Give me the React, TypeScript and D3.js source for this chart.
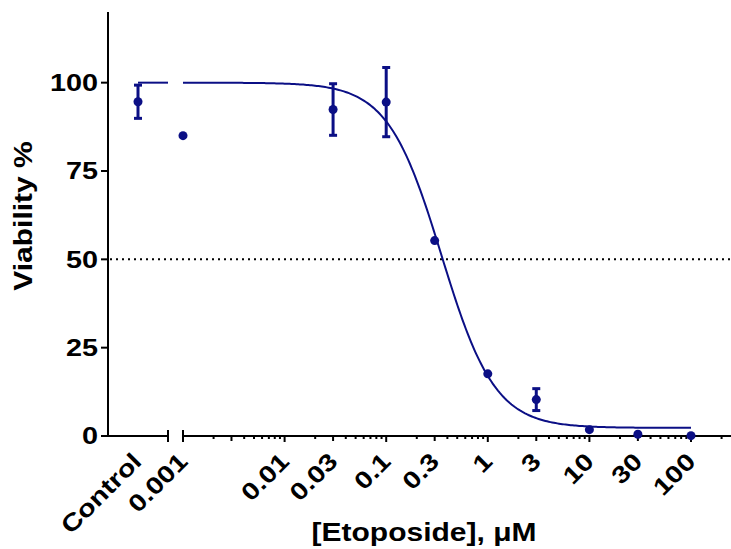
import * as d3 from 'd3'

// concentrations (µM) and viability readings
const concs = [0.001, 0.03, 0.1, 0.3, 1, 3, 10, 30, 100]
const means = [85, 92.4, 94.5, 55.3, 17.6, 10.3, 1.8, 0.5, 0.1]
const errs  = [0, 7.3, 9.8, 0, 0, 3.1, 0, 0, 0]
const controlMean = 94.6
const controlErr = 4.7

// fitted 4PL curve parameters
const fitTop = 100
const fitBottom = 2.3
const fitIC50 = 0.35
const fitHill = 1.65

const xTickVals   = [0.001, 0.01, 0.03, 0.1, 0.3, 1, 3, 10, 30, 100]
const xTickLabels = ['0.001', '0.01', '0.03', '0.1', '0.3', '1', '3', '10', '30', '100']
const yTicks = [0, 25, 50, 75, 100]

const W = 731, H = 549
const NAVY = '#0b0f85'
const FONT = '"Liberation Sans", Arial, sans-serif'
const SX = 1.2 // glyphs are drawn wide in the original

const fit = (c: number) => fitBottom + (fitTop - fitBottom) / (1 + Math.pow(c / fitIC50, fitHill))

export default function App() {
  const axisX = 108, axisY = 436, breakL = 168
  const y = d3.scaleLinear().domain([0, 120]).range([axisY, 12])
  const x = d3.scaleLog().domain([0.001, 100]).range([183, 691])
  const ctrl = d3.scalePoint().domain(['Control']).range([axisX, breakL]).padding(0.5)
  const cx = ctrl('Control') as number
  const xEnd = x.invert(W)

  // minor ticks 2..9 per decade
  const minor: number[] = []
  for (let e = -3; e <= 2; e++) for (let m = 2; m <= 9; m++) {
    const v = m * Math.pow(10, e)
    if (v < xEnd) minor.push(v)
  }

  const curvePts = d3.range(0, 301).map(i => {
    const c = Math.pow(10, -3 + (5 * i) / 300)
    return [x(c), y(fit(c))] as [number, number]
  })
  const line = d3.line()

  const points = concs.map((c, i) => ({ c, m: means[i], e: errs[i] }))

  return (
    <div>
      <style>{`body{margin:0}`}</style>
      <svg width={W} height={H} style={{ display: 'block', background: '#fff' }} fontFamily={FONT}>
        {/* dotted 50% line */}
        <line x1={axisX + 2} x2={W} y1={y(50)} y2={y(50)} stroke="#000" strokeWidth={2} strokeDasharray="2,4" />

        {/* y axis */}
        <line x1={axisX} x2={axisX} y1={y(120)} y2={axisY + 1} stroke="#000" strokeWidth={2} />
        {yTicks.map(t => (
          <g key={t}>
            <line x1={axisX - 7} x2={axisX} y1={y(t)} y2={y(t)} stroke="#000" strokeWidth={2} />
            <text transform={`translate(98,${y(t)}) scale(${SX},1)`} textAnchor="end" dy="0.35em"
              fontSize={24} fontWeight="bold">{t}</text>
          </g>
        ))}
        <text transform={`translate(31.5,216) rotate(-90) scale(${SX},1)`} textAnchor="middle"
          fontSize={25} fontWeight="bold">Viability %</text>

        {/* x axis, control segment + log segment */}
        <line x1={axisX - 1} x2={breakL} y1={axisY} y2={axisY} stroke="#000" strokeWidth={2} />
        <line x1={breakL} x2={breakL} y1={axisY - 6} y2={axisY + 6} stroke="#000" strokeWidth={2} />
        <line x1={x(0.001)} x2={W} y1={axisY} y2={axisY} stroke="#000" strokeWidth={2} />
        <line x1={x(0.001)} x2={x(0.001)} y1={axisY - 6} y2={axisY + 6} stroke="#000" strokeWidth={2} />
        {minor.map(v => {
          const lead = Math.round(v / Math.pow(10, Math.floor(Math.log10(v) + 1e-9)))
          const len = lead === 3 ? 5 : 3
          return <line key={v} x1={x(v)} x2={x(v)} y1={axisY} y2={axisY + len} stroke="#000" strokeWidth={2} />
        })}
        {[0.01, 0.1, 1, 10, 100].map(v => (
          <line key={v} x1={x(v)} x2={x(v)} y1={axisY} y2={axisY + 6} stroke="#000" strokeWidth={2} />
        ))}
        <text transform={`translate(${cx + 5},463) rotate(-45) scale(${SX},1)`} textAnchor="end"
          fontSize={24} fontWeight="bold">Control</text>
        {xTickVals.map((v, i) => (
          <text key={v} transform={`translate(${x(v) + 6},463) rotate(-45) scale(${SX},1)`} textAnchor="end"
            fontSize={24} fontWeight="bold">{xTickLabels[i]}</text>
        ))}
        <text transform={`translate(424,541) scale(${SX},1)`} textAnchor="middle"
          fontSize={25} fontWeight="bold">[Etoposide], μM</text>

        {/* fitted curve */}
        <line x1={cx} x2={breakL} y1={y(fitTop)} y2={y(fitTop)} stroke={NAVY} strokeWidth={2} />
        <path d={line(curvePts) || ''} fill="none" stroke={NAVY} strokeWidth={2} />

        {/* control point */}
        <g stroke={NAVY} strokeWidth={3}>
          <line x1={cx} x2={cx} y1={y(controlMean - controlErr)} y2={y(controlMean + controlErr)} />
          <line x1={cx - 4} x2={cx + 4} y1={y(controlMean - controlErr)} y2={y(controlMean - controlErr)} />
          <line x1={cx - 4} x2={cx + 4} y1={y(controlMean + controlErr)} y2={y(controlMean + controlErr)} />
        </g>
        <circle cx={cx} cy={y(controlMean)} r={4.5} fill={NAVY} />

        {points.map(p => (
          <g key={p.c}>
            {p.e > 0 && (
              <g stroke={NAVY} strokeWidth={3}>
                <line x1={x(p.c)} x2={x(p.c)} y1={y(p.m - p.e)} y2={y(p.m + p.e)} />
                <line x1={x(p.c) - 4} x2={x(p.c) + 4} y1={y(p.m - p.e)} y2={y(p.m - p.e)} />
                <line x1={x(p.c) - 4} x2={x(p.c) + 4} y1={y(p.m + p.e)} y2={y(p.m + p.e)} />
              </g>
            )}
            <circle cx={x(p.c)} cy={y(p.m)} r={4.5} fill={NAVY} />
          </g>
        ))}
      </svg>
    </div>
  )
}
